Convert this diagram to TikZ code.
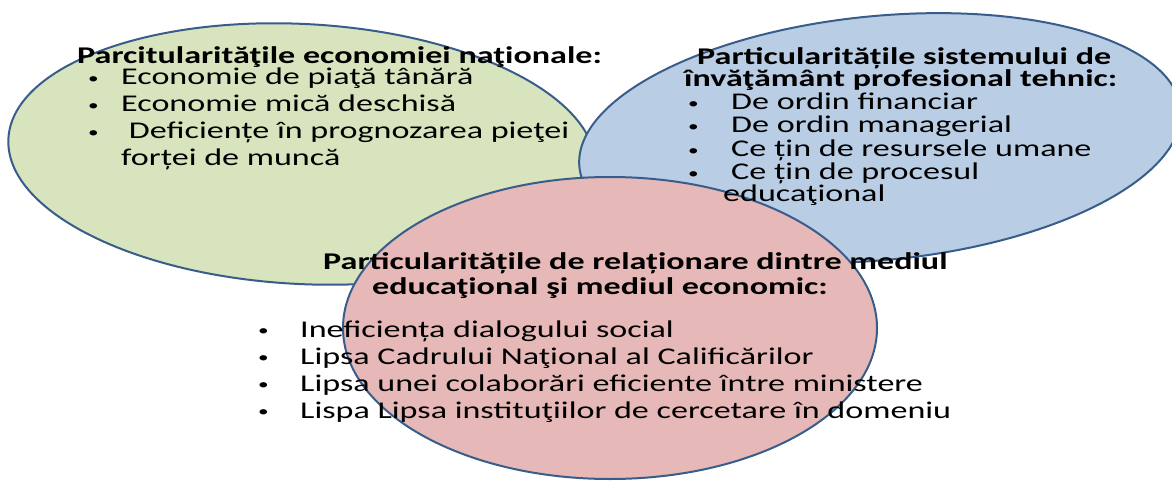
\documentclass[tikz,border=0pt]{standalone}
\usepackage{fontspec}
\setmainfont{Carlito}[FakeStretch=1.42]
\definecolor{edgeblue}{HTML}{385D8A}
\definecolor{econgreen}{HTML}{D7E4BD}
\definecolor{schoolblue}{HTML}{B9CDE5}
\definecolor{linkpink}{HTML}{E6B9B8}
\newcommand{\bul}[1]{\makebox[#1][l]{\raisebox{1.5pt}{\fontsize{15}{15}\selectfont\textbullet}}}

\begin{document}
\begin{tikzpicture}[x=1pt, y=-1pt,
  ell/.style = {draw=edgeblue, line width=2pt},
  ttl/.style = {anchor=base west, inner sep=0pt, font=\fontsize{24}{28}\selectfont\bfseries},
  itm/.style = {anchor=base west, inner sep=0pt, font=\fontsize{24}{28}\selectfont},
]
\useasboundingbox (0,0) rectangle (1172,481);
%%--- Ellipses ---
\draw[ell, fill=econgreen, rotate around={-3:(302,154)}] (302,154) ellipse [x radius=294pt, y radius=130pt];
\draw[ell, fill=schoolblue, rotate around={5.5:(880,138)}] (880,138) ellipse [x radius=302pt, y radius=122pt];
\draw[ell, fill=linkpink] (610,328) ellipse [x radius=267pt, y radius=151pt];
%%--- Economia nationala ---
\node[ttl] (gt)  at (77,64)  {Parcitularităţile economiei naţionale:};
\node[itm] (g1)  at (88,85)  {\bul{33pt}Economie de piaţă tânără};
\node[itm] (g2)  at (88,112) {\bul{33pt}Economie mică deschisă};
\node[itm] (g3)  at (88,139) {\bul{33pt}\ Deficiențe în prognozarea pieţei};
\node[itm] (g4)  at (121,166) {forței de muncă};
%%--- Sistemul de invatamant ---
\node[ttl] (bt1) at (697,65) {Particularitățile sistemului de};
\node[ttl] (bt2) at (684,87) {învăţământ profesional tehnic:};
\node[itm] (b1)  at (688,110) {\bul{43pt}De ordin financiar};
\node[itm] (b2)  at (688,133) {\bul{43pt}De ordin managerial};
\node[itm] (b3)  at (688,157) {\bul{43pt}Ce țin de resursele umane};
\node[itm] (b4)  at (688,180) {\bul{43pt}Ce țin de procesul};
\node[itm] (b5)  at (723,202) {educaţional};
%%--- Relationare ---
\node[ttl] (pt1) at (323,269) {Particularitățile de relaționare dintre mediul};
\node[ttl] (pt2) at (372,294) {educaţional şi mediul economic:};
\node[itm] (p1)  at (258,337) {\bul{42pt}Ineficiența dialogului social};
\node[itm] (p2)  at (258,364) {\bul{42pt}Lipsa Cadrului Naţional al Calificărilor};
\node[itm] (p3)  at (258,391) {\bul{42pt}Lipsa unei colaborări eficiente între ministere};
\node[itm] (p4)  at (258,418) {\bul{42pt}Lispa Lipsa instituţiilor de cercetare în domeniu};
\end{tikzpicture}
\end{document}
